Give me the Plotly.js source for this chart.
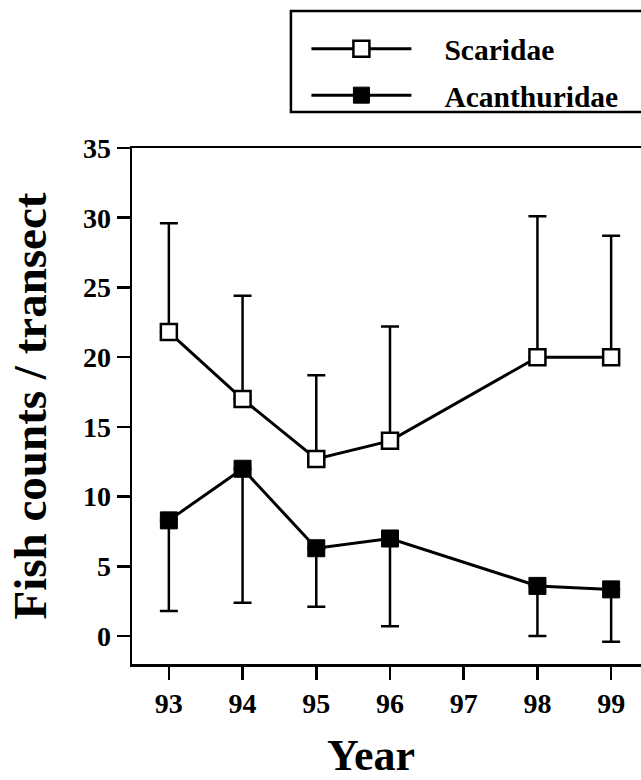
<!DOCTYPE html>
<html>
<head>
<meta charset="utf-8">
<script src="https://cdn.plot.ly/plotly-3.0.1.min.js"></script>
<style>
html, body { margin: 0; padding: 0; overflow: hidden; background: #fff; }
#chart { width: 660px; height: 780px; }
</style>
</head>
<body>
<div id="chart"></div>
<script>
var years = [93, 94, 95, 96, 98, 99];
var tickYears = [93, 94, 95, 96, 97, 98, 99];
var tickLabels = ['93', '94', '95', '96', '97', '98', '99'];

var scaridae = [21.8, 17.0, 12.7, 14.0, 20.0, 20.0];
var scaridaeErrUp = [7.8, 7.4, 6.0, 8.2, 10.1, 8.7];
var scaridaeErrDown = [0, 0, 0, 0, 0, 0];

var acanthuridae = [8.3, 12.0, 6.3, 7.0, 3.6, 3.35];
var acanthuridaeErrUp = [0, 0, 0, 0, 0, 0];
var acanthuridaeErrDown = [6.5, 9.6, 4.2, 6.3, 3.6, 3.75];

var seriesNames = ['Scaridae', 'Acanthuridae'];
var xTitle = 'Year';
var yTitle = 'Fish counts / transect';
var pad = '\u00a0\u00a0\u00a0\u2009';

var serif = 'Liberation Serif, Times New Roman, serif';

var traces = [
  {
    x: years, y: scaridae, name: pad + seriesNames[0], type: 'scatter', mode: 'lines+markers',
    legendgroup: 'a',
    line: {color: '#000', width: 3},
    marker: {symbol: 'square', size: 16, color: '#fff', line: {color: '#000', width: 2.5}},
    error_y: {type: 'data', symmetric: false, array: scaridaeErrUp, arrayminus: scaridaeErrDown,
              color: '#000', thickness: 2.5, width: 9},
    cliponaxis: false
  },
  {
    x: years, y: acanthuridae, name: pad + seriesNames[1], type: 'scatter', mode: 'lines+markers',
    legendgroup: 'b',
    line: {color: '#000', width: 3},
    marker: {symbol: 'square', size: 17, color: '#000', line: {color: '#000', width: 1}},
    error_y: {type: 'data', symmetric: false, array: acanthuridaeErrUp, arrayminus: acanthuridaeErrDown,
              color: '#000', thickness: 2.5, width: 9},
    cliponaxis: false
  }
];

var layout = {
  width: 660, height: 780,
  margin: {l: 132, r: 12, t: 148, b: 116},
  paper_bgcolor: '#fff', plot_bgcolor: '#fff',
  font: {family: serif, color: '#000'},
  showlegend: true,
  legend: {
    x: 0.338, xanchor: 'left', y: 1.242, yanchor: 'top',
    bgcolor: 'rgba(0,0,0,0)', borderwidth: 0,
    font: {family: serif, size: 29.5, color: '#000', weight: 'bold'},
    itemwidth: 100, traceorder: 'grouped', tracegroupgap: 5
  },
  xaxis: {
    range: [92.5, 99.5], tickmode: 'array', tickvals: tickYears, ticktext: tickLabels,
    showgrid: false, zeroline: false, showline: true, linecolor: '#000', linewidth: 2.5,
    mirror: true, ticks: 'outside', ticklen: 13, tickwidth: 2.5, tickcolor: '#000',
    tickfont: {family: serif, size: 28, color: '#000', weight: 'bold'}
  },
  yaxis: {
    range: [-2, 35], tickmode: 'array', tickvals: [0, 5, 10, 15, 20, 25, 30, 35],
    ticktext: ['0', '5', '10', '15', '20', '25', '30', '35'],
    showgrid: false, zeroline: false, showline: true, linecolor: '#000', linewidth: 2.5,
    mirror: true, ticks: 'outside', ticklen: 13, tickwidth: 2.5, tickcolor: '#000',
    tickfont: {family: serif, size: 28, color: '#000', weight: 'bold'},
    title: {text: yTitle, font: {family: serif, size: 47, color: '#000', weight: 'bold'}, standoff: 22}
  },
  annotations: [
    {text: xTitle, xref: 'paper', yref: 'paper', x: 0.463, y: -0.178, xanchor: 'center', yanchor: 'middle',
     showarrow: false, font: {family: serif, size: 44, color: '#000', weight: 'bold'}}
  ],
  shapes: [
    {type: 'rect', xref: 'paper', yref: 'paper', x0: 0.308, x1: 1.1, y0: 1.0698, y1: 1.2655,
     line: {color: '#000', width: 2.5}, fillcolor: 'rgba(0,0,0,0)'}
  ]
};

Plotly.newPlot('chart', traces, layout, {displayModeBar: false, staticPlot: true});
</script>
</body>
</html>
